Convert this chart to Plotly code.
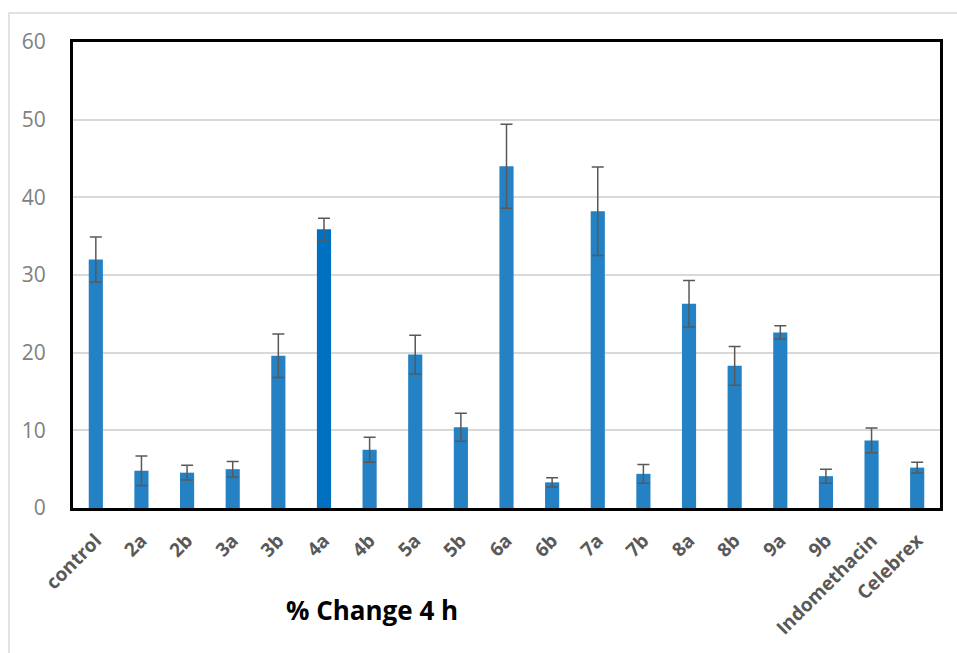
import plotly.graph_objects as go

categories = ["control", "2a", "2b", "3a", "3b", "4a", "4b", "5a", "5b", "6a",
              "6b", "7a", "7b", "8a", "8b", "9a", "9b", "Indomethacin", "Celebrex"]
values = [32.0, 4.8, 4.55, 5.0, 19.6, 35.9, 7.5, 19.75, 10.4, 44.0,
          3.3, 38.2, 4.4, 26.3, 18.3, 22.6, 4.1, 8.7, 5.2]
errors = [2.9, 1.9, 0.95, 1.0, 2.8, 1.4, 1.6, 2.5, 1.8, 5.4,
          0.6, 5.7, 1.2, 3.0, 2.5, 0.85, 0.9, 1.6, 0.7]
y_ticks = [0, 10, 20, 30, 40, 50, 60]
title_text = "% Change 4 h"

base_color = "#2481C3"
highlight_color = "#0070C0"
colors = [highlight_color if c == "4a" else base_color for c in categories]

fig = go.Figure()
fig.add_trace(go.Bar(
    x=categories, y=values,
    marker=dict(color=colors, line=dict(width=0)),
    width=0.31,
    error_y=dict(type="data", array=errors, visible=True,
                 color="#595959", thickness=1.5, width=6),
))

fig.update_layout(
    width=957, height=653,
    margin=dict(l=73, r=17, t=42, b=145, autoexpand=False),
    paper_bgcolor="white", plot_bgcolor="white",
    showlegend=False,
    font=dict(family="Open Sans, sans-serif"),
    xaxis=dict(
        tickangle=-45,
        tickfont=dict(size=19, color="#595959", family="Open Sans, sans-serif", weight="bold"),
        showline=True, linecolor="black", linewidth=3, mirror=True,
        showgrid=False, ticks="", ticklabelstandoff=11,
    ),
    yaxis=dict(
        range=[0, 60], tickvals=y_ticks,
        tickfont=dict(size=21, color="#808080"),
        showgrid=True, gridcolor="#d9d9d9", gridwidth=1.5,
        showline=True, linecolor="black", linewidth=3, mirror=True,
        ticks="", ticklabelstandoff=20, zeroline=False,
    ),
    annotations=[dict(
        text=title_text, xref="paper", yref="paper",
        x=0.345, y=-0.219, xanchor="center", yanchor="middle",
        showarrow=False,
        font=dict(size=26, color="black", family="Open Sans, sans-serif", weight="bold"),
    )],
    shapes=[dict(
        type="rect", xref="paper", yref="paper",
        x0=-0.0738, x1=1.2, y0=-0.5, y1=1.062,
        line=dict(color="#d9d9d9", width=1.5), fillcolor="rgba(0,0,0,0)",
        layer="below",
    )],
)

fig.write_html("out.html", config={"displayModeBar": False},
               post_script="document.body.style.margin='0';")
